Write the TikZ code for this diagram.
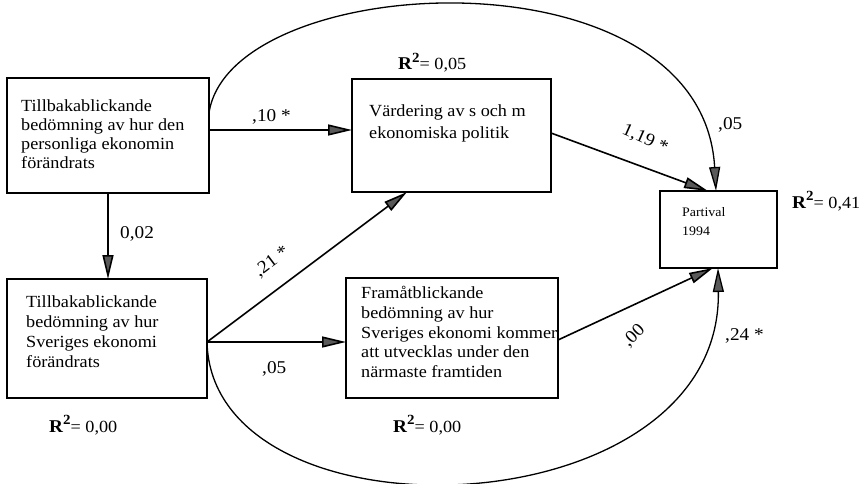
\documentclass[tikz,border=0pt]{standalone}
\usepackage{fontspec}
\setmainfont{Liberation Serif}[FakeStretch=1.07]
\usetikzlibrary{arrows.meta,calc}
\newcommand{\Rsq}{{\bfseries\fontsize{18}{18}\selectfont R\raisebox{0.42em}{\fontsize{14}{14}\selectfont 2}}}
\begin{document}
\begin{tikzpicture}[x=1pt,y=-1pt,
  box/.style={draw,line width=1.2pt,inner sep=0pt,outer sep=0pt,anchor=north west},
  txt/.style={anchor=north west,inner sep=0pt,align=left,font=\fontsize{17}{19.5}\selectfont},
  lbl/.style={inner sep=0pt,font=\fontsize{18}{20}\selectfont},
  tip/.style={-{Triangle[length=24pt,width=11pt,fill=black!65]}},
  conn/.style={line width=1.6pt,tip},
  arc/.style={line width=1.3pt,tip}]
\useasboundingbox (0,0) rectangle (865,484);

% boxes
\node[box,minimum width=202pt,minimum height=115pt] (A) at (7,78) {};
\node[box,minimum width=199pt,minimum height=113pt] (B) at (352,79) {};
\node[box,minimum width=117pt,minimum height=77pt] (P) at (660,191) {};
\node[box,minimum width=200pt,minimum height=119pt] (C) at (7,279) {};
\node[box,minimum width=212pt,minimum height=120pt] (D) at (346,278) {};

% box texts
\node[txt,font=\fontsize{17}{18.8}\selectfont] (At) at (21,100) {Tillbakablickande\\bedömning av hur den\\personliga ekonomin\\förändrats};
\node[txt,font=\fontsize{17}{21.6}\selectfont] (Bt) at (369,105) {Värdering av s och m\\ekonomiska politik};
\node[txt,font=\fontsize{13}{19}\selectfont] (Pt) at (682,207) {Partival\\1994};
\node[txt,font=\fontsize{17}{19.7}\selectfont] (Ct) at (26,296) {Tillbakablickande\\bedömning av hur\\Sveriges ekonomi\\förändrats};
\node[txt,font=\fontsize{17}{19.8}\selectfont] (Dt) at (361,286) {Framåtblickande\\bedömning av hur\\Sveriges ekonomi kommer\\att utvecklas under den\\närmaste framtiden};

% connector end points
\coordinate (a1) at ($(A.north east)+(0,52)$);
\coordinate (a2) at ($(A.north east)+(0,35)$);
\coordinate (b1) at ($(B.north east)+(0,54)$);
\coordinate (b2) at ($(B.south west)+(55,0)$);
\coordinate (c1) at ($(C.north east)+(0,63)$);
\coordinate (d1) at ($(D.north east)+(0,62)$);
\coordinate (pn1) at ($(P.north west)+(48,0)$);
\coordinate (pn2) at ($(P.north west)+(56,0)$);
\coordinate (ps1) at ($(P.south west)+(53,0)$);
\coordinate (ps2) at ($(P.south west)+(58,0)$);

% connectors
\draw[conn] (a1) -- (a1 -| B.west);
\draw[conn] (A.south) -- (A.south |- C.north);
\draw[conn] (c1) -- (b2);
\draw[conn] (c1) -- (c1 -| D.west);
\draw[conn] (b1) -- (pn1);
\draw[conn] (d1) -- (ps1);
\draw[arc] (a2) .. controls (230,-30) and (702,-55) .. (pn2);
\draw[arc] (c1) .. controls (212,548) and (722,532) .. (ps2);

% coefficient labels
\node[lbl,anchor=base west] (l1) at (252,122) {,10 *};
\node[lbl,anchor=base west] (l2) at (120,238) {0,02};
\node[lbl,anchor=base west] (l3) at (718,130) {,05};
\node[lbl,rotate=-24] (l4) at (645,139) {1,19 *};
\node[lbl,rotate=37] (l5) at (272,262) {,21 *};
\node[lbl,anchor=base west] (l6) at (262,373) {,05};
\node[lbl,rotate=45] (l7) at (634,336) {,00};
\node[lbl,anchor=base west] (l8) at (725,340) {,24 *};

% R squared labels
\node[lbl,anchor=base west,font=\fontsize{17}{20}\selectfont] (r1) at (398,70) {\Rsq= 0,05};
\node[lbl,anchor=base west,font=\fontsize{17}{20}\selectfont] (r2) at (792,208) {\Rsq= 0,41};
\node[lbl,anchor=base west,font=\fontsize{17}{20}\selectfont] (r3) at (49,432) {\Rsq= 0,00};
\node[lbl,anchor=base west,font=\fontsize{17}{20}\selectfont] (r4) at (393,432) {\Rsq= 0,00};
\end{tikzpicture}
\end{document}
